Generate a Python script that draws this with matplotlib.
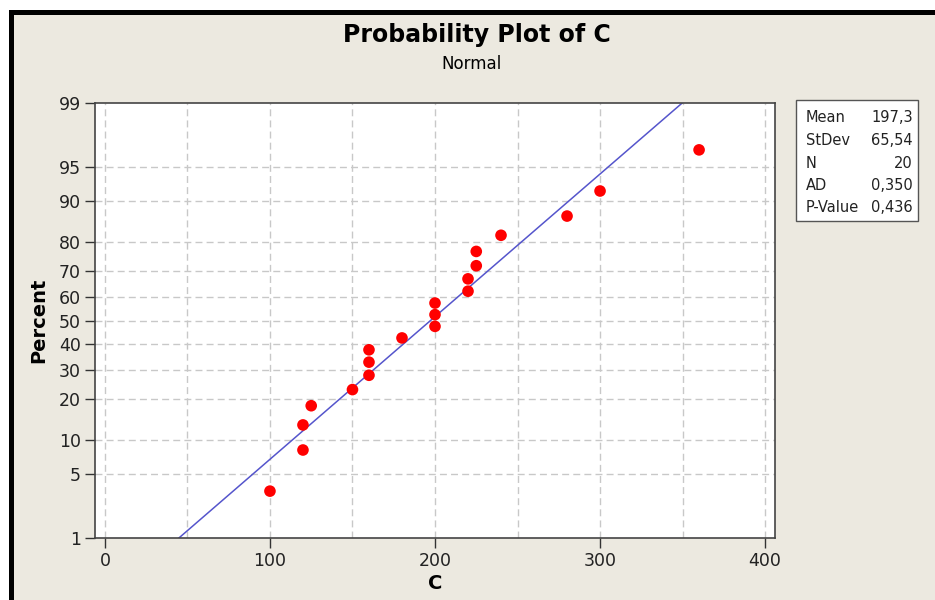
import numpy as np
import matplotlib
matplotlib.use("Agg")
import matplotlib.pyplot as plt
from matplotlib.patches import Rectangle
from statistics import NormalDist

# ---- data ----
c_values = [100, 120, 120, 125, 150, 160, 160, 160, 180, 200,
            200, 200, 220, 220, 225, 225, 240, 280, 300, 360]
percent_values = [3.4, 8.3, 13.2, 18.1, 23.0, 27.9, 32.8, 37.7, 42.6, 47.5,
                  52.5, 57.4, 62.3, 67.2, 72.1, 77.0, 81.9, 86.8, 91.7, 96.6]
fit_mean = 197.3
fit_stdev = 65.54
stats_labels = ["Mean", "StDev", "N", "AD", "P-Value"]
stats_values = ["197,3", "65,54", "20", "0,350", "0,436"]
y_ticks = [1, 5, 10, 20, 30, 40, 50, 60, 70, 80, 90, 95, 99]
x_ticks = [0, 100, 200, 300, 400]
x_grid = [0, 50, 100, 150, 200, 250, 300, 350, 400]

nd = NormalDist()
_ppf = np.vectorize(lambda p: nd.inv_cdf(p))
_cdf = np.vectorize(lambda z: nd.cdf(z))


def fwd(p):
    p = np.asarray(p, dtype=float)
    q = np.clip(p / 100.0, 1e-12, 1 - 1e-12)
    return _ppf(q) if q.size else q


def inv(z):
    z = np.asarray(z, dtype=float)
    return _cdf(z) * 100.0 if z.size else z


W, H = 935, 600
fig = plt.figure(figsize=(W / 100, H / 100), dpi=100, facecolor="white")
fig.patches.append(Rectangle((9 / W, 0), 1, 1 - 10 / H, transform=fig.transFigure,
                             facecolor="black", edgecolor="none", zorder=-2))
fig.patches.append(Rectangle((14 / W, 0), 1, 1 - 15 / H, transform=fig.transFigure,
                             facecolor="#ECE9E0", edgecolor="none", zorder=-1))

ax = fig.add_axes([95 / W, 1 - 538 / H, (775 - 95) / W, (538 - 103) / H])
ax.set_facecolor("white")
ax.set_yscale("function", functions=(fwd, inv))
ax.set_ylim(1, 99)
ax.set_xlim(-6, 406)

grid_kw = dict(color="#C8C8C8", lw=1, ls=(0, (5, 3)), zorder=0)
for gx in x_grid:
    ax.axvline(gx, **grid_kw)
for gy in y_ticks[1:-1]:
    ax.axhline(gy, **grid_kw)

# fitted line
p_line = [1, 99]
x_line = [fit_mean + fit_stdev * nd.inv_cdf(p / 100) for p in p_line]
ax.plot(x_line, p_line, color="#5555CC", lw=1.1, zorder=2)

ax.scatter(c_values, percent_values, s=70, color="#FF0000", edgecolors="none", zorder=3)

ax.set_yticks(y_ticks)
ax.set_yticklabels([str(t) for t in y_ticks])
ax.set_xticks(x_ticks)
ax.set_xticklabels([str(t) for t in x_ticks])
ax.yaxis.set_minor_locator(matplotlib.ticker.NullLocator())
ax.xaxis.set_minor_locator(matplotlib.ticker.NullLocator())
ax.tick_params(axis="both", direction="out", length=7, width=1, color="#333333",
               labelsize=12.5, labelcolor="#222222", pad=3)
for s in ax.spines.values():
    s.set_color("#444444")
    s.set_linewidth(1.2)

ax.set_xlabel("C", fontsize=14, fontweight="bold", labelpad=3)
ax.set_ylabel("Percent", fontsize=14, fontweight="bold", labelpad=8)

fig.text(477 / W, 1 - 35 / H, "Probability Plot of C", ha="center", va="center",
         fontsize=17, fontweight="bold")
fig.text(472 / W, 1 - 64 / H, "Normal", ha="center", va="center", fontsize=12)

# stats box
bx0, bx1, by0, by1 = 796, 918, 100, 221
fig.patches.append(Rectangle((bx0 / W, 1 - by1 / H), (bx1 - bx0) / W, (by1 - by0) / H,
                             transform=fig.transFigure, facecolor="white",
                             edgecolor="#555555", lw=1.0))
for i, (lab, val) in enumerate(zip(stats_labels, stats_values)):
    yy = 118 + i * 22.5
    fig.text(806 / W, 1 - yy / H, lab, ha="left", va="center", fontsize=10.5, color="#222222")
    fig.text(913 / W, 1 - yy / H, val, ha="right", va="center", fontsize=10.5, color="#222222")

fig.savefig("out.png", dpi=100, facecolor=fig.get_facecolor())
